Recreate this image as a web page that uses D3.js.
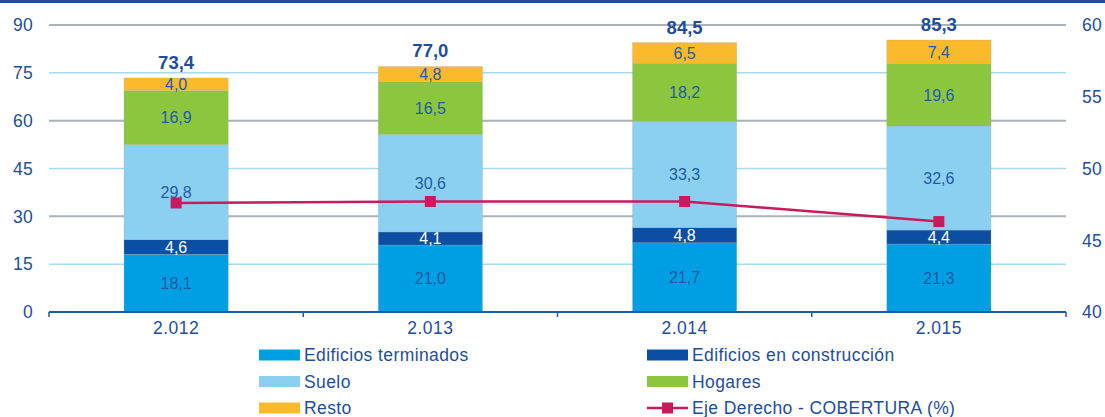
<!DOCTYPE html>
<html><head><meta charset="utf-8">
<script src="https://cdn.jsdelivr.net/npm/d3@7"></script>
<style>body{margin:0;background:#fff;}svg{display:block;font-family:"Liberation Sans",Arial,sans-serif;}</style>
</head><body><svg id="c" width="1105" height="417"></svg>
<script>
const years = ["2.012","2.013","2.014","2.015"];
const seriesNames = ["Edificios terminados","Edificios en construcción","Suelo","Hogares","Resto"];
const edificiosTerminados = [18.1,21.0,21.7,21.3];
const edificiosConstruccion = [4.6,4.1,4.8,4.4];
const suelo = [29.8,30.6,33.3,32.6];
const hogares = [16.9,16.5,18.2,19.6];
const resto = [4.0,4.8,6.5,7.4];
const totals = [73.4,77.0,84.5,85.3];
const cobertura = [47.6,47.7,47.7,46.3];
const lineName = "Eje Derecho - COBERTURA (%)";
const leftTicks = [0,15,30,45,60,75,90];
const rightTicks = [40,45,50,55,60];

const colors = ["#009fe3","#0b4ea2","#8bd0f1","#8cc63f","#fbba2c"];
const labelColors = ["#1f5aa8","#ffffff","#1f5aa8","#1f5aa8","#1f5aa8"];
const lineColor = "#c91a5d";
const textColor = "#1f4e9a";

const svg = d3.select("#c");
const L = 49, R = 1066, T = 25, B = 312;
const x = d3.scaleBand().domain(years).range([L,R]).paddingInner(0.59).paddingOuter(0.295);
const y = d3.scaleLinear().domain([0,90]).range([B,T]);
const y2 = d3.scaleLinear().domain([40,60]).range([B,T]);

// top border
svg.append("rect").attr("x",0).attr("y",0).attr("width",1105).attr("height",3).attr("fill","#1f4e8c");

// gridlines
leftTicks.filter(d=>d>0).forEach(d=>{
  const major = (d/15)%2===0;
  svg.append("line").attr("x1",L).attr("x2",R).attr("y1",y(d)).attr("y2",y(d))
    .attr("stroke", major ? "#a9b3ba" : "#a8d9ef").attr("stroke-width", major ? 2 : 1.5);
});

// stacked bars
const data = years.map((yr,i)=>({year:yr, vals:[edificiosTerminados[i],edificiosConstruccion[i],suelo[i],hogares[i],resto[i]]}));
data.forEach((d,i)=>{
  let acc = 0;
  d.vals.forEach((v,k)=>{
    const y0 = acc, y1 = acc+v; acc = y1;
    svg.append("rect").attr("x",x(d.year)).attr("width",x.bandwidth())
      .attr("y",y(y1)).attr("height",y(y0)-y(y1)).attr("fill",colors[k])
      .attr("stroke","rgba(160,175,185,0.45)").attr("stroke-width",0.6);
    svg.append("text").attr("x",x(d.year)+x.bandwidth()/2).attr("y",(y(y0)+y(y1))/2)
      .attr("dy","0.36em").attr("text-anchor","middle").attr("font-size",16)
      .attr("fill",labelColors[k]).text(d3.format(".1f")(v).replace(".",","));
  });
  svg.append("text").attr("x",x(d.year)+x.bandwidth()/2).attr("y",y(acc)-9)
    .attr("text-anchor","middle").attr("font-size",18.5).attr("font-weight","bold")
    .attr("fill",textColor).text(d3.format(".1f")(totals[i]).replace(".",","));
});

// x axis
svg.append("line").attr("x1",L).attr("x2",R).attr("y1",B).attr("y2",B).attr("stroke","#1f5aa8").attr("stroke-width",2);
const bounds = [L, ...years.slice(1).map(yr=>x(yr)-x.step()*x.paddingInner()/2), R];
bounds.forEach(bx=>{
  svg.append("line").attr("x1",bx).attr("x2",bx).attr("y1",B).attr("y2",B+5).attr("stroke","#1f5aa8").attr("stroke-width",1.5);
});
years.forEach(yr=>{
  svg.append("text").attr("x",x(yr)+x.bandwidth()/2).attr("y",334).attr("text-anchor","middle")
    .attr("font-size",17.5).attr("letter-spacing",0.5).attr("fill",textColor).text(yr);
});

// axis labels
leftTicks.forEach(d=>{
  svg.append("text").attr("x",33).attr("y",y(d)).attr("dy","0.36em").attr("text-anchor","end")
    .attr("font-size",17.5).attr("letter-spacing",0.3).attr("fill",textColor).text(d);
});
rightTicks.forEach(d=>{
  svg.append("text").attr("x",1082).attr("y",y2(d)).attr("dy","0.36em").attr("text-anchor","start")
    .attr("font-size",17.5).attr("letter-spacing",0.3).attr("fill",textColor).text(d);
});

// line
const line = d3.line().x((d,i)=>x(years[i])+x.bandwidth()/2).y(d=>y2(d));
svg.append("path").datum(cobertura).attr("d",line).attr("fill","none").attr("stroke",lineColor).attr("stroke-width",2.5);
cobertura.forEach((d,i)=>{
  svg.append("rect").attr("x",x(years[i])+x.bandwidth()/2-5.5).attr("y",y2(d)-5.5)
    .attr("width",11).attr("height",11).attr("fill",lineColor);
});

// legend
const legendItems = [
  {name:seriesNames[0], color:colors[0], col:0, row:0},
  {name:seriesNames[1], color:colors[1], col:1, row:0},
  {name:seriesNames[2], color:colors[2], col:0, row:1},
  {name:seriesNames[3], color:colors[3], col:1, row:1},
  {name:seriesNames[4], color:colors[4], col:0, row:2},
  {name:lineName, color:lineColor, col:1, row:2, line:true}
];
const colX = [259, 647], rowY = [355, 381.5, 408];
legendItems.forEach(it=>{
  const gx = colX[it.col], gy = rowY[it.row];
  if(it.line){
    svg.append("line").attr("x1",gx).attr("x2",gx+41).attr("y1",gy).attr("y2",gy).attr("stroke",it.color).attr("stroke-width",2.5);
    svg.append("rect").attr("x",gx+15).attr("y",gy-5.5).attr("width",11).attr("height",11).attr("fill",it.color);
  } else {
    svg.append("rect").attr("x",gx).attr("y",gy-5.5).attr("width",41).attr("height",11).attr("fill",it.color);
  }
  svg.append("text").attr("x",gx+45).attr("y",gy).attr("dy","0.36em").attr("font-size",17.5)
    .attr("letter-spacing",0.4).attr("fill",textColor).text(it.name);
});
</script></body></html>
